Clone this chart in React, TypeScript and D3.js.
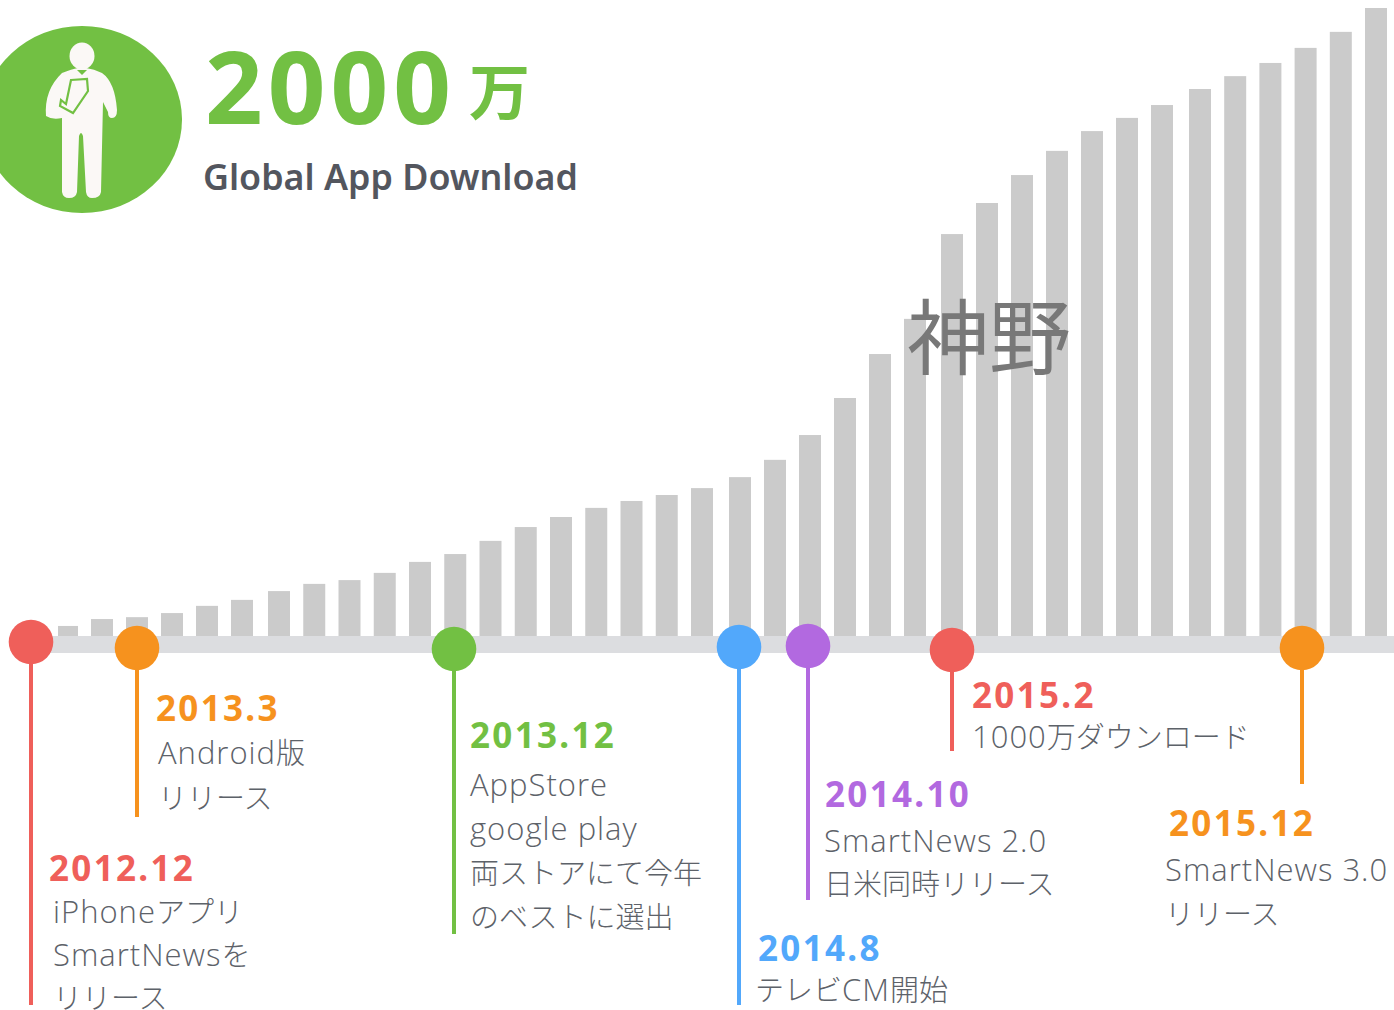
import React from "react";
import * as d3 from "d3";

const months = ["2012.12","2013.1","2013.2","2013.3","2013.4","2013.5","2013.6","2013.7","2013.8","2013.9","2013.10","2013.11","2013.12","2014.1","2014.2","2014.3","2014.4","2014.5","2014.6","2014.7","2014.8","2014.9","2014.10","2014.11","2014.12","2015.1","2015.2","2015.3","2015.4","2015.5","2015.6","2015.7","2015.8","2015.9","2015.10","2015.11","2015.12","2016.1"];
const downloads = [32,54,60,73,96,115,143,166,178,201,236,261,303,347,379,408,430,449,471,506,561,640,758,898,1010,1280,1379,1468,1545,1608,1650,1691,1742,1783,1825,1873,1924,2000];

const eventDates = ["2012.12","2013.3","2013.12","2014.8","2014.10","2015.2","2015.12"];
const eventColors = ["#ef5f5a","#f6921e","#72c043","#52a8fb","#b269e0","#ef5f5a","#f6921e"];
const eventX = [31,137,454,739,808,952,1302];
const eventY = [642,648,649,647,646,650,648];
const eventLineEnd = [1005,817,934,1005,900,751,784];
const dateX = [49,156,470,758,825,972,1169];
const dateY = [881,721,748,961,807,708,836];
const eventLines = [
  ["iPhoneアプリ","SmartNewsを","リリース"],
  ["Android版","リリース"],
  ["AppStore","google play","両ストアにて今年","のベストに選出"],
  ["テレビCM開始"],
  ["SmartNews 2.0","日米同時リリース"],
  ["1000万ダウンロード"],
  ["SmartNews 3.0","リリース"],
];
const lineX = [53,158,470,755,824,972,1165];
const lineY0 = [923,764,796,1001,852,748,881];
const lineStep = [43,45,44,0,43,0,44];

const sans = "'Noto Sans CJK JP','Noto Sans',sans-serif";
const latin = "'Noto Sans','Open Sans',sans-serif";
const body = "'Open Sans','Noto Sans CJK JP',sans-serif";

function runs(t: string) {
  return (t.match(/[\x20-\x7e]+|[^\x20-\x7e]+/g) || []).map((r, k) => {
    const isLatin = /^[\x20-\x7e]/.test(r);
    return (
      <tspan key={k} fontSize={isLatin ? 31 : 29} letterSpacing={isLatin ? 1 : 0} xmlSpace="preserve" style={{ whiteSpace: "pre" }}>
        {r}
      </tspan>
    );
  });
}

export default function App() {
  const index = d3.scaleOrdinal<string, number>().domain(months).range(months.map((_, i) => i));
  const x = d3.scaleLinear()
    .domain([0, 1, 5, 6, 18, 19, 24, 25, 31, 32, 37])
    .range([58, 91, 231, 268, 691, 729, 904, 941, 1151, 1189, 1365]);
  const barW = (m: string) => (index(m) === 0 ? 20 : 22);
  const y = d3.scaleLinear().domain([0, 2000]).range([636, 8]);
  return (
    <svg width={1394} height={1010} style={{ position: "absolute", left: 0, top: 0, display: "block" }} fontFamily={sans}>
      <g fill="#cbcbcb">
        {months.map((m, i) => (
          <rect key={m} x={x(index(m))} width={barW(m)} y={y(downloads[i])} height={y(0) - y(downloads[i])} />
        ))}
      </g>
      <rect x={31} y={636} width={1363} height={17} fill="#dcdde0" />

      <ellipse cx={82} cy={119.5} rx={100} ry={93.5} fill="#72c043" />
      <g fill="#fbf8f6">
        <ellipse cx={82} cy={56} rx={12.5} ry={13.5} />
        <path d="M62 73 Q72 69 78 68 L86 68 Q94 69 102 73 Q115 82 117 110 Q117 118 112 118 Q108 118 108 112 L103 102 L101 192 Q100 198 92 198 Q87 198 86 192 L83 136 Q81 130 79 136 L77 192 Q76 198 69 198 Q63 198 62 192 L62 118 Q52 120 46 116 Q44 90 62 73 Z" />
      </g>
      <path d="M77 70 L82 75 L87 70 Z" fill="#72c043" />
      <path d="M71 80 L87 79 L88 91 L73 113 L60 106 L61 100 L66 104 Z" fill="none" stroke="#72c043" strokeWidth={2.2} />

      <text x={205} y={124} fontFamily={latin} fontWeight={700} fontSize={101} letterSpacing={5} fill="#72c043">2000</text>
      <text x={469} y={115} fontWeight={700} fontSize={61} fill="#72c043">万</text>
      <text x={203} y={190} fontFamily={latin} fontWeight={600} fontSize={35.8} fill="#53565e">Global App Download</text>
      <text x={907} y={368} fontWeight={400} fontSize={82} fill="#787878">神野</text>

      {eventDates.map((d, i) => (
        <g key={d}>
          <line x1={eventX[i]} x2={eventX[i]} y1={eventY[i]} y2={eventLineEnd[i]} stroke={eventColors[i]} strokeWidth={4} />
          <circle cx={eventX[i]} cy={eventY[i]} r={22.3} fill={eventColors[i]} />
          <text x={dateX[i]} y={dateY[i]} fontFamily={latin} fontWeight={700} fontSize={35} letterSpacing={2.3} fill={eventColors[i]}>{d}</text>
          {eventLines[i].map((t, j) => (
            <text key={j} x={lineX[i]} y={lineY0[i] + j * lineStep[i]} fontFamily={body} fontWeight={300} fill="#5d6269">{runs(t)}</text>
          ))}
        </g>
      ))}
    </svg>
  );
}
